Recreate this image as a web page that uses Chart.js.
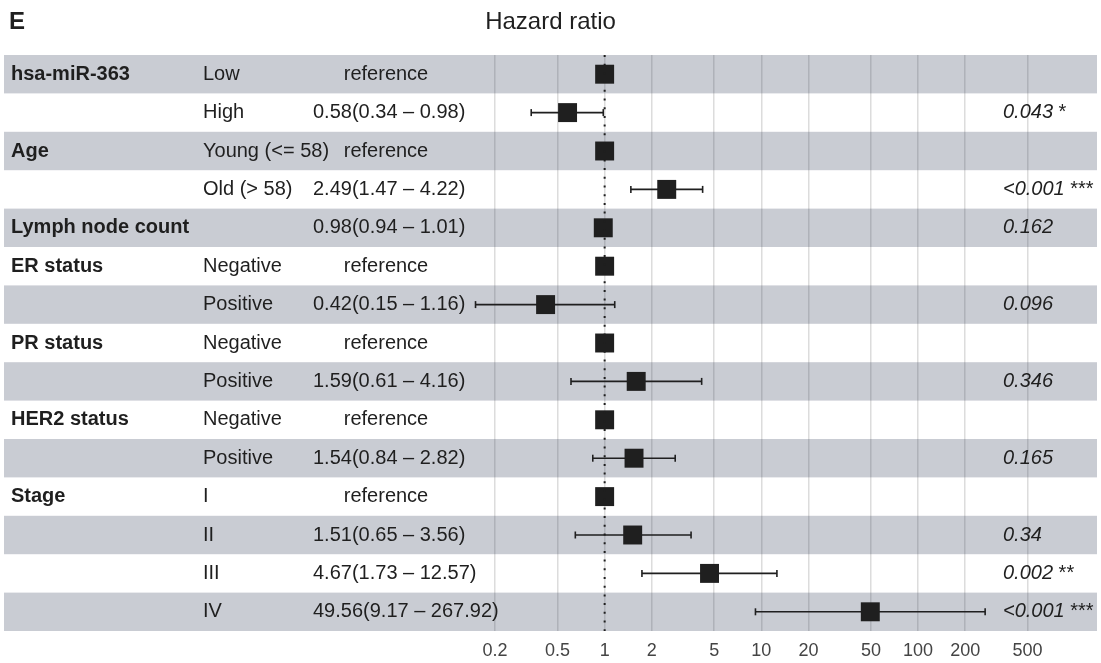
<!DOCTYPE html>
<html>
<head>
<meta charset="utf-8">
<script src="https://cdn.jsdelivr.net/npm/chart.js@4"></script>
<style>
  body { margin: 0; background: #fff; }
  canvas { display: block; }
</style>
</head>
<body>
<canvas id="forest" width="1101" height="663"></canvas>
<script>
// rows top to bottom
const variables = ['hsa-miR-363', '', 'Age', '', 'Lymph node count', 'ER status', '', 'PR status', '', 'HER2 status', '', 'Stage', '', '', ''];
const levels = ['Low', 'High', 'Young (<= 58)', 'Old (> 58)', '', 'Negative', 'Positive', 'Negative', 'Positive', 'Negative', 'Positive', 'I', 'II', 'III', 'IV'];
const hazard = [1, 0.58, 1, 2.49, 0.98, 1, 0.42, 1, 1.59, 1, 1.54, 1, 1.51, 4.67, 49.56];
const lower = [null, 0.34, null, 1.47, 0.94, null, 0.15, null, 0.61, null, 0.84, null, 0.65, 1.73, 9.17];
const upper = [null, 0.98, null, 4.22, 1.01, null, 1.16, null, 4.16, null, 2.82, null, 3.56, 12.57, 267.92];
const pValues = ['', '0.043', '', '<0.001', '0.162', '', '0.096', '', '0.346', '', '0.165', '', '0.34', '0.002', '<0.001'];
const stars = ['', '*', '', '***', '', '', '', '', '', '', '', '', '', '**', '***'];
const tickValues = [0.2, 0.5, 1, 2, 5, 10, 20, 50, 100, 200, 500];

const FONT = "'Liberation Sans', Arial, sans-serif";
const INK = '#1f1f1f';

// build datasets from the arrays
const squares = hazard.map((v, i) => ({ x: v, y: i + 1 }));
const whiskers = [];
const caps = [];
hazard.forEach((v, i) => {
  if (lower[i] == null) return;
  whiskers.push({ x: lower[i], y: i + 1 }, { x: upper[i], y: i + 1 }, { x: null, y: null });
  caps.push({ x: lower[i], y: i + 1 }, { x: upper[i], y: i + 1 });
});

const hrText = hazard.map((v, i) =>
  lower[i] == null ? 'reference'
    : v.toFixed(2) + '(' + lower[i].toFixed(2) + ' \u2013 ' + upper[i].toFixed(2) + ')');

// shaded bands behind every other row
const bandPlugin = {
  id: 'bands',
  beforeDatasetsDraw(chart) {
    const { ctx, chartArea, scales } = chart;
    ctx.save();
    ctx.fillStyle = 'rgba(40, 50, 80, 0.25)';
    for (let i = 0; i < hazard.length; i += 2) {
      const top = scales.y.getPixelForValue(i + 0.5);
      const bot = scales.y.getPixelForValue(i + 1.5);
      ctx.fillRect(chartArea.left, top, chartArea.right - chartArea.left, bot - top);
    }
    ctx.restore();
  }
};

// text columns, title and panel letter
const textPlugin = {
  id: 'columns',
  afterDatasetsDraw(chart) {
    const { ctx, scales } = chart;
    ctx.save();
    ctx.fillStyle = INK;
    ctx.textBaseline = 'middle';
    hazard.forEach((v, i) => {
      const y = scales.y.getPixelForValue(i + 1);
      ctx.textAlign = 'left';
      ctx.font = 'bold 20px ' + FONT;
      if (variables[i]) ctx.fillText(variables[i], 11, y);
      ctx.font = '20px ' + FONT;
      if (levels[i]) ctx.fillText(levels[i], 203, y);
      if (hrText[i] === 'reference') {
        ctx.textAlign = 'center';
        ctx.fillText(hrText[i], 386, y);
      } else {
        ctx.fillText(hrText[i], 313, y);
      }
      if (pValues[i]) {
        ctx.textAlign = 'left';
        ctx.font = 'italic 20px ' + FONT;
        ctx.fillText(pValues[i], 1003, y);
        const w = ctx.measureText(pValues[i] + ' ').width;
        ctx.font = '20px ' + FONT;
        if (stars[i]) ctx.fillText(stars[i], 1003 + w, y);
      }
    });
    ctx.textAlign = 'center';
    ctx.font = '24px ' + FONT;
    ctx.fillText('Hazard ratio', (chart.chartArea.left + chart.chartArea.right) / 2, 22);
    ctx.textAlign = 'left';
    ctx.font = 'bold 24px ' + FONT;
    ctx.fillText('E', 9, 22);
    ctx.restore();
  }
};

new Chart(document.getElementById('forest'), {
  type: 'scatter',
  data: {
    datasets: [
      {
        label: 'HR = 1',
        type: 'line',
        data: [{ x: 1, y: 0.5 }, { x: 1, y: 15.5 }],
        borderColor: INK,
        borderWidth: 2,
        borderDash: [2, 6.7],
        pointRadius: 0
      },
      {
        label: 'Hazard ratio',
        data: squares,
        pointStyle: 'rect',
        pointRadius: 13.4,
        pointHoverRadius: 13.4,
        backgroundColor: INK,
        borderWidth: 0
      },
      {
        label: 'caps',
        data: caps,
        pointStyle: 'line',
        rotation: 90,
        pointRadius: 3.5,
        borderColor: INK,
        borderWidth: 1.6
      },
      {
        label: '95% CI',
        type: 'line',
        data: whiskers,
        borderColor: INK,
        borderWidth: 1.6,
        pointRadius: 0,
        spanGaps: false
      }
    ]
  },
  options: {
    responsive: false,
    animation: false,
    layout: { autoPadding: false, padding: { left: 4, right: 4, top: 55, bottom: 0 } },
    plugins: { legend: { display: false }, tooltip: { enabled: false } },
    scales: {
      x: {
        type: 'logarithmic',
        min: 0.000147,
        max: 1386,
        border: { display: false },
        grid: { color: '#dcdcdc', lineWidth: 1.5, drawTicks: false },
        afterBuildTicks: (scale) => { scale.ticks = tickValues.map(v => ({ value: v })); },
        afterFit: (scale) => { scale.height = 32; },
        ticks: {
          autoSkip: false,
          maxRotation: 0,
          padding: 9,
          color: '#444',
          font: { family: FONT, size: 18 },
          callback: (v) => String(v)
        }
      },
      y: {
        type: 'linear',
        min: 0.5,
        max: 15.5,
        reverse: true,
        display: false
      }
    }
  },
  plugins: [bandPlugin, textPlugin]
});
</script>
</body>
</html>
